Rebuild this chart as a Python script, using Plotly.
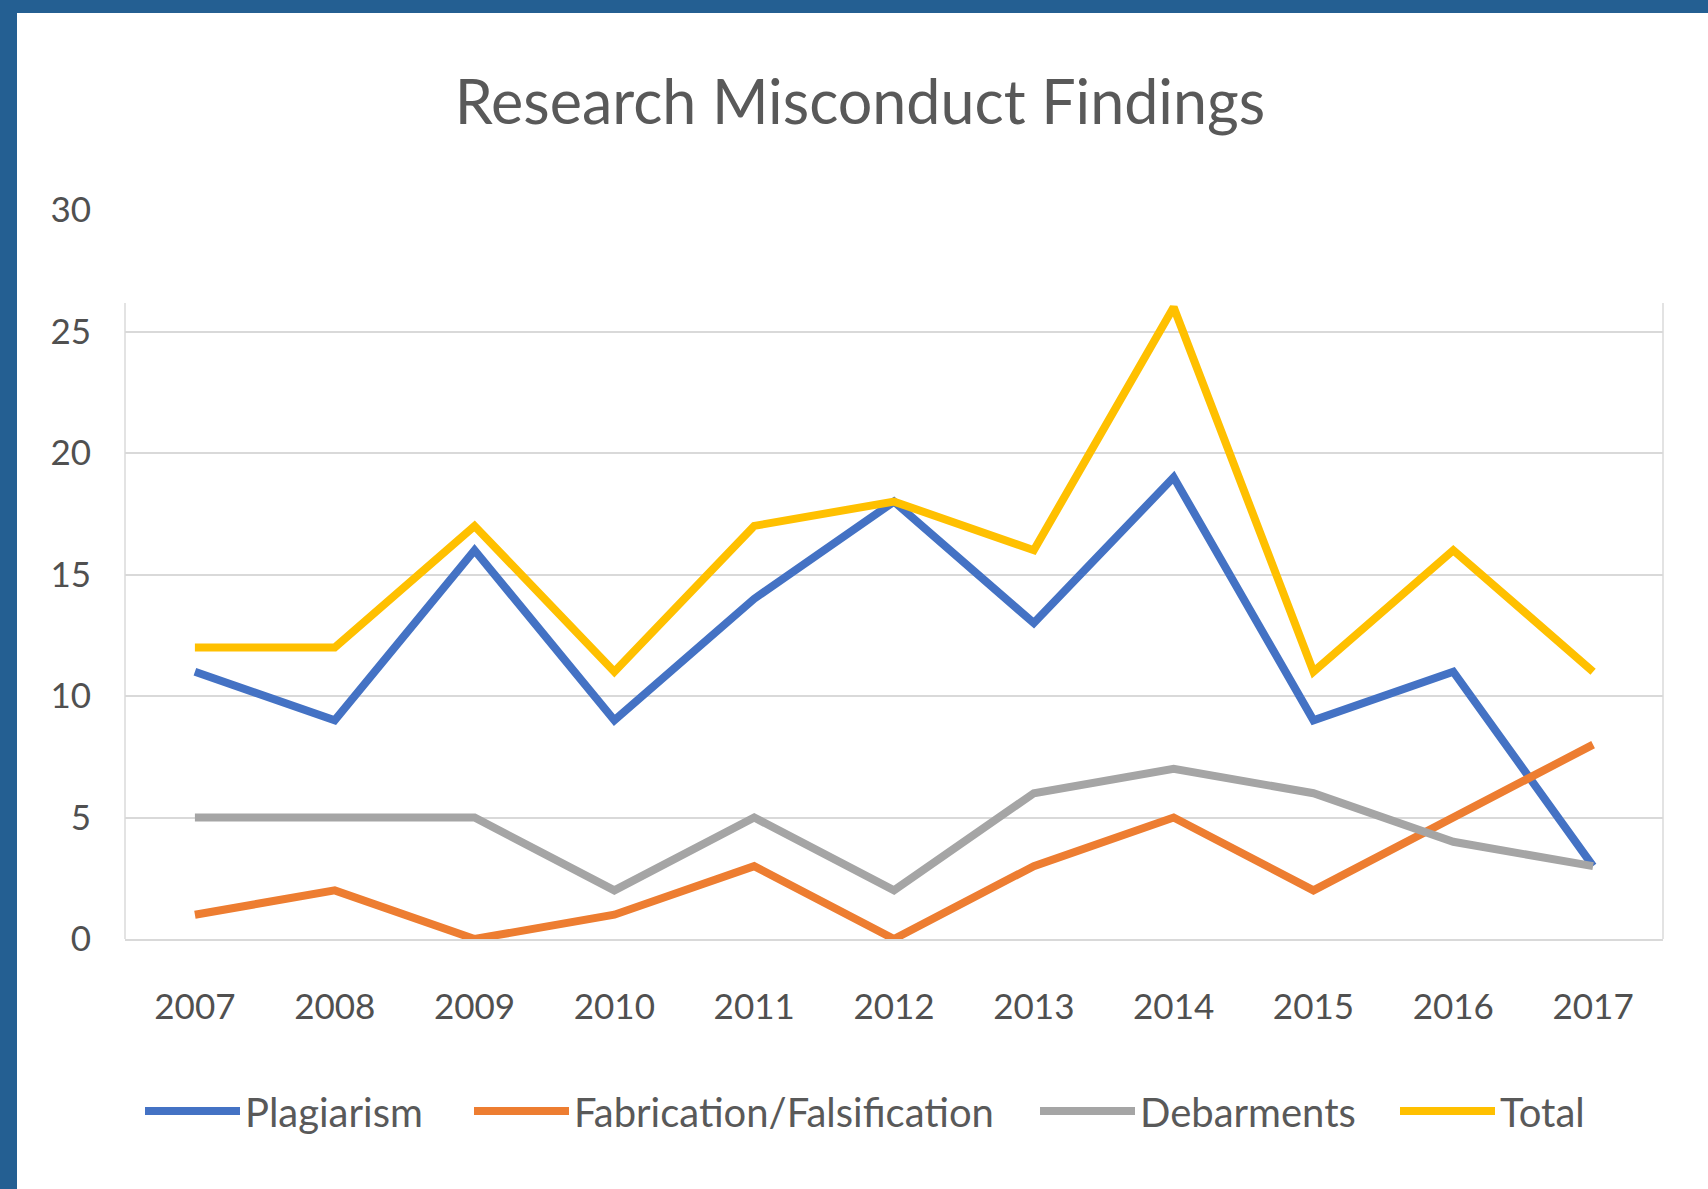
import plotly.graph_objects as go

years = ["2007", "2008", "2009", "2010", "2011", "2012", "2013", "2014", "2015", "2016", "2017"]
plagiarism = [11, 9, 16, 9, 14, 18, 13, 19, 9, 11, 3]
fabrication = [1, 2, 0, 1, 3, 0, 3, 5, 2, 5, 8]
debarments = [5, 5, 5, 2, 5, 2, 6, 7, 6, 4, 3]
total = [12, 12, 17, 11, 17, 18, 16, 26, 11, 16, 11]
y_ticks = [0, 5, 10, 15, 20, 25, 30]
grid_vals = [5, 10, 15, 20, 25]

series = [
    ("Plagiarism", plagiarism, "#4472C4"),
    ("Fabrication/Falsification", fabrication, "#ED7D31"),
    ("Debarments", debarments, "#A5A5A5"),
    ("Total", total, "#FFC000"),
]
legend_px = [140, 469, 1035, 1395]  # left edge of each legend entry (px)

W, H = 1708, 1189
ML, MR, MT, MB = 125, 45, 210, 250
pw, ph = W - ML - MR, H - MT - MB

FONT = "Lato, Carlito, Calibri, sans-serif"
TXT = "#595959"
TICK = "#505050"

fig = go.Figure()
# invisible helper trace so yaxis2 (grid) is drawn
fig.add_trace(go.Scatter(x=years, y=total, yaxis="y2", mode="lines",
                         line=dict(width=0), opacity=0, showlegend=False,
                         hoverinfo="skip"))
legends = {}
for i, (name, vals, color) in enumerate(series):
    lid = "legend" if i == 0 else f"legend{i + 1}"
    fig.add_trace(go.Scatter(x=years, y=vals, name=name, mode="lines",
                             line=dict(color=color, width=8), legend=lid))
    legends[lid] = dict(orientation="h", x=(legend_px[i] - ML) / pw, xanchor="left",
                        y=-(1111 - (H - MB)) / ph, yanchor="middle",
                        font=dict(family=FONT, size=40, color=TXT),
                        itemwidth=95, bgcolor="rgba(0,0,0,0)")

# white card over a blue frame (frame visible on top and left)
fig.add_shape(type="rect", xref="paper", yref="paper", layer="below",
              x0=(17 - ML) / pw, x1=(W + 5 - ML) / pw,
              y0=-(MB + 10) / ph, y1=((H - MB) - 13) / ph,
              fillcolor="white", line=dict(width=0))
# faint plot-area side borders
for xp in (0, 1):
    fig.add_shape(type="line", xref="paper", yref="paper", layer="below",
                  x0=xp, x1=xp, y0=0, y1=(939 - 303) / ph,
                  line=dict(color="#E3E3E3", width=2))

fig.update_layout(
    width=W, height=H,
    margin=dict(l=ML, r=MR, t=MT, b=MB),
    paper_bgcolor="#245F92",
    plot_bgcolor="rgba(0,0,0,0)",
    title=dict(text="Research Misconduct Findings", x=(860 - ML) / pw, xref="paper",
               xanchor="center", y=1 - 103 / H, yanchor="middle",
               font=dict(family=FONT, size=61, color=TXT)),
    font=dict(family=FONT, color=TXT),
    showlegend=True,
    **legends,
)
fig.update_xaxes(type="category", range=[-0.5, 10.5], showgrid=False,
                 showline=True, linecolor="#D9D9D9", linewidth=2,
                 ticks="", ticklabelstandoff=36,
                 tickfont=dict(family=FONT, size=35, color=TICK))
fig.update_layout(
    yaxis=dict(range=[0, 30], tickvals=y_ticks, showgrid=False, zeroline=False,
               showline=False, ticks="", ticklabelstandoff=33,
               tickfont=dict(family=FONT, size=35, color=TICK)),
    yaxis2=dict(range=[0, 30], overlaying="y", side="left", tickvals=grid_vals,
                showgrid=True, gridcolor="#D9D9D9", gridwidth=2, zeroline=False,
                showline=False, showticklabels=False, ticks=""),
)

fig.write_html("out.html", config={"displayModeBar": False},
               post_script="document.body.style.margin='0';document.body.style.padding='0';")
